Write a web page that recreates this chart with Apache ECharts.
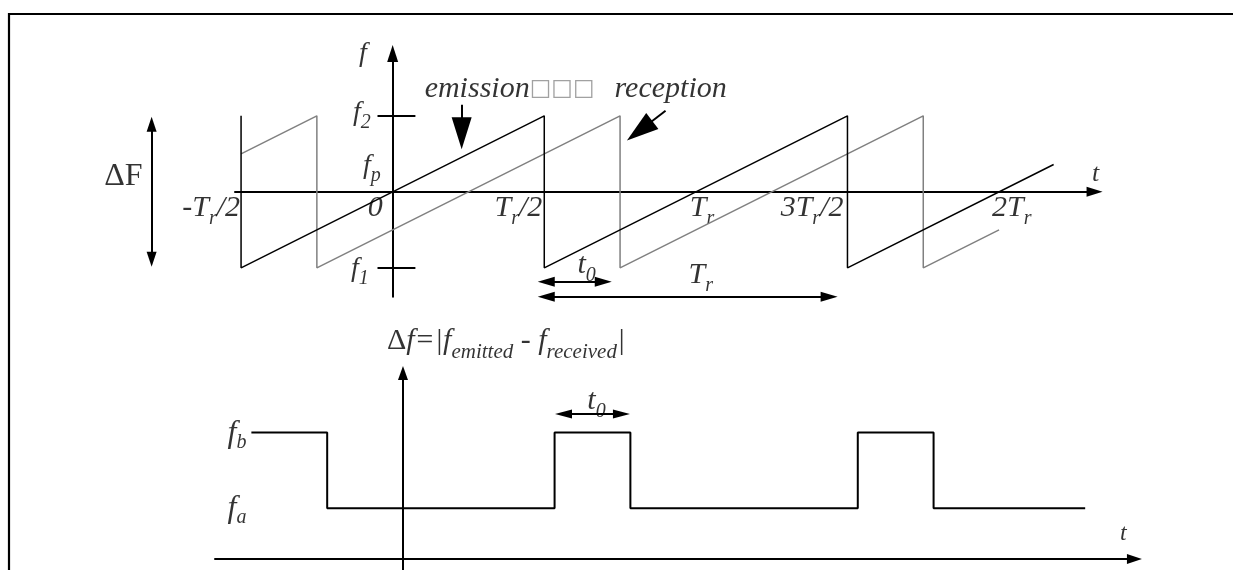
<!DOCTYPE html>
<html>
<head>
<meta charset="utf-8">
<script src="https://cdn.jsdelivr.net/npm/echarts@6/dist/echarts.min.js"></script>
<style>
  html, body { margin: 0; padding: 0; background: #fff; }
  #chart { width: 1233px; height: 570px; }
</style>
</head>
<body>
<div id="chart"></div>
<script>
// time in units of Tr/2, frequency in units of dF/2 (f2 = 1, f1 = -1)
const emissionT = [-1, -1, 1, 1, 3, 3, 4.36]
const emissionF = [1, -1, 1, -1, 1, -1, 0.36]
const receptionT = [-1, -0.5, -0.5, 1.5, 1.5, 3.5, 3.5, 4]
const receptionF = [0.5, 1, -1, 1, -1, 1, -1, -0.5]

// beat frequency |f_emitted - f_received| (fa = 2, fb = 5)
const beatT = [-1, -0.5, -0.5, 1, 1, 1.5, 1.5, 3, 3, 3.5, 3.5, 4.5]
const beatF = [5, 5, 2, 2, 5, 5, 2, 2, 5, 5, 2, 2]

const tickT = [-1, 0, 1, 2, 3, 4]
const tickLabels = ['-T_r/2', '0', 'T_r/2', 'T_r', '3T_r/2', '2T_r']
const freqTicks = [1, 0.34, -1]
const freqLabels = ['f_2', 'f_p', 'f_1']
const beatLevels = [5, 2]
const beatLabels = ['f_b', 'f_a']

// annotation arrows (in axis units)
const t0Span = [[1.013, -1.184], [1.389, -1.184]]
const trSpan = [[1.013, -1.382], [2.879, -1.382]]
const dFSpan = [[-1.59, 0.888], [-1.59, -0.888]]
const emissionPointer = [[0.455, 1.145], [0.455, 0.77]]
const receptionPointer = [[1.80, 1.066], [1.629, 0.804]]
const t0BeatSpan = [[1.059, 5.73], [1.441, 5.73]]

const SERIF = "'Liberation Serif', 'Times New Roman', serif"

function richSet(main, sub, drop, italic) {
  const st = italic === false ? 'normal' : 'italic'
  return {
    m: { fontFamily: SERIF, fontStyle: st, fontSize: main, lineHeight: main, verticalAlign: 'top', color: '#000' },
    s: { fontFamily: SERIF, fontStyle: 'italic', fontSize: sub, lineHeight: sub, verticalAlign: 'top', padding: [drop, 0, 0, 0], color: '#000' },
    u: { fontFamily: SERIF, fontSize: main, lineHeight: main, verticalAlign: 'top', color: '#000' },
    g: { fontFamily: 'DejaVu Sans', fontSize: 23, lineHeight: 23, verticalAlign: 'top', padding: [4, 0, 0, 0], color: '#8a8a8a' },
  }
}

// 'T_r/2' -> '{m|T}{s|r}{m|/2}'
function toRich(str) {
  return str.split(/(_[a-z0-9]+|Δ|□+)/).filter(Boolean).map(p => {
    if (p[0] === '_') return '{s|' + p.slice(1) + '}'
    if (p === 'Δ') return '{u|Δ}'
    if (p[0] === '□') return '{g|' + p + '}'
    return '{m|' + p + '}'
  }).join('')
}

function note(x, y, text, align, dx, dy, rich) {
  return {
    value: [x, y],
    label: { formatter: toRich(text), align: align, offset: [dx, dy], rich: rich },
  }
}

const T30 = richSet(30, 20, 16)
const F28 = richSet(28, 20, 14)
const F32 = richSet(32, 20, 15)
const T26 = richSet(26, 20, 14)
const B30 = richSet(30, 21, 15.5)

const tickPos = [['right', -1], ['right', -10], ['right', -2], ['left', -6], ['right', -4], ['left', -7]]
const freqPos = [[-22, -3], [-12, 0], [-24, 1]]

const topNotes = [
  ...tickT.map((t, i) => note(t, 0, tickLabels[i], tickPos[i][0], tickPos[i][1], 16, T30)),
  ...freqTicks.map((f, i) => note(0, f, freqLabels[i], 'right', freqPos[i][0], freqPos[i][1], F28)),
  note(0, 1.82, 'f', 'right', -26, 0, F28),
  note(4.63, 0, 't', 'center', 1, -18, T26),
  note(1.2, -1.184, 't_0', 'center', 12, -17, T30),
  note(1.946, -1.382, 'T_r', 'center', 13, -22, T30),
  note(-1.59, 0, 'ΔF', 'right', -9, -15, richSet(32, 20, 10, false)),
  note(0.455, 1.145, 'emission□□□', 'left', -37, -16, T30),
  note(1.80, 1.066, 'reception', 'left', -51, -22, T30),
]

const bottomNotes = [
  ...beatLevels.map((v, i) => note(beatT[0], v, beatLabels[i], 'right', -5, i === 0 ? 1.5 : 0.5, F32)),
  note(0, 7.35, 'Δf=|f_emitted - f_received|', 'left', -16, -32, B30),
  note(1.25, 5.73, 't_0', 'center', 4, -13, T30),
  note(4.825, 0, 't', 'center', -11, -25, richSet(24, 18, 12)),
]

function axisStyle(symbolSize) {
  return {
    onZero: true,
    symbol: ['none', 'triangle'],
    symbolSize: symbolSize,
    lineStyle: { color: '#000', width: 2 },
  }
}

function valueAxis(gridIndex, min, max, symbolSize) {
  return {
    type: 'value',
    gridIndex: gridIndex,
    min: min,
    max: max,
    axisLine: axisStyle(symbolSize),
    axisTick: { show: false },
    axisLabel: { show: false },
    splitLine: { show: false },
  }
}

function arrows(coordsList, symbols, size, axisIdx) {
  return {
    type: 'lines',
    coordinateSystem: 'cartesian2d',
    xAxisIndex: axisIdx,
    yAxisIndex: axisIdx,
    clip: false,
    silent: true,
    symbol: symbols,
    symbolSize: [size, size],
    lineStyle: { color: '#000', width: 2, opacity: 1, curveness: 0 },
    data: coordsList.map(c => ({ coords: c })),
  }
}

function labelSeries(axisIdx, data) {
  return {
    type: 'scatter',
    xAxisIndex: axisIdx,
    yAxisIndex: axisIdx,
    clip: false,
    silent: true,
    symbolSize: 1,
    itemStyle: { color: 'rgba(0,0,0,0)' },
    label: { show: true, position: 'inside', verticalAlign: 'middle' },
    data: data,
  }
}

const pxT = 151.6, pxF = 76, pxB = 25.3

const option = {
  animation: false,
  backgroundColor: '#fff',
  grid: [
    { left: 235, top: 53.5, width: (4.63 + 1.04) * pxT, height: (1.82 + 1.38) * pxF, containLabel: false, outerBoundsMode: 'none' },
    { left: 215, top: 373, width: (4.825 + 1.24) * pxT, height: (7.35 + 0.6) * pxB, containLabel: false, outerBoundsMode: 'none' },
  ],
  xAxis: [
    valueAxis(0, -1.04, 4.63, [10, 16]),
    valueAxis(1, -1.24, 4.825, [10, 15]),
  ],
  yAxis: [
    valueAxis(0, -1.38, 1.82, [11, 17]),
    valueAxis(1, -0.6, 7.35, [10, 14]),
  ],
  graphic: [{
    type: 'polyline',
    silent: true,
    shape: { points: [[9, 590], [9, 14], [1250, 14]] },
    style: { stroke: '#000', lineWidth: 2.2, fill: null },
  }],
  series: [
    {
      type: 'line', xAxisIndex: 0, yAxisIndex: 0, clip: false, silent: true,
      symbol: 'none', lineStyle: { color: '#808080', width: 1.5 },
      data: receptionT.map((t, i) => [t, receptionF[i]]),
    },
    {
      type: 'line', xAxisIndex: 0, yAxisIndex: 0, clip: false, silent: true,
      symbol: 'none', lineStyle: { color: '#000', width: 1.5 },
      data: emissionT.map((t, i) => [t, emissionF[i]]),
    },
    {
      type: 'line', xAxisIndex: 1, yAxisIndex: 1, clip: false, silent: true,
      symbol: 'none', lineStyle: { color: '#000', width: 2 },
      data: beatT.map((t, i) => [t, beatF[i]]),
    },
    // f2 / f1 tick marks
    arrows(freqTicks.filter(f => f !== 0.34).map(f => [[-0.1, f], [0.15, f]]), ['none', 'none'], [1, 1], 0),
    arrows([t0Span, trSpan], ['triangle', 'triangle'], [10, 17], 0),
    arrows([dFSpan], ['triangle', 'triangle'], [10, 15], 0),
    arrows([emissionPointer, receptionPointer], ['none', 'triangle'], [20, 32], 0),
    arrows([t0BeatSpan], ['triangle', 'triangle'], [9, 17], 1),
    labelSeries(0, topNotes),
    labelSeries(1, bottomNotes),
  ],
}

const chart = echarts.init(document.getElementById('chart'))
chart.setOption(option)
</script>
</body>
</html>
